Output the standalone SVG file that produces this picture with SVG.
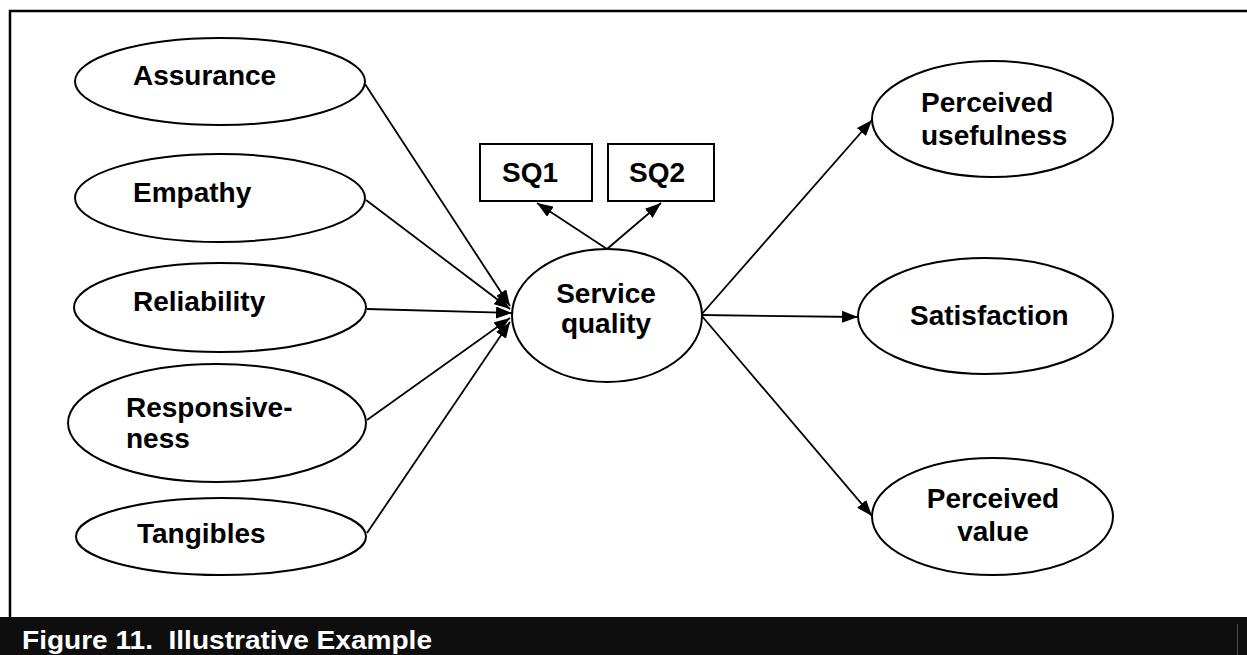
<svg xmlns="http://www.w3.org/2000/svg" width="1247" height="655" viewBox="0 0 1247 655">
<style>
.n ellipse, .n rect { fill: #fff; stroke: #000; stroke-width: 2; }
.t { font-family: "Liberation Sans", Arial, sans-serif; font-weight: bold; font-size: 28px; fill: #000; }
.cap { font-family: "Liberation Sans", Arial, sans-serif; font-weight: bold; font-size: 25px; fill: #fff; white-space: pre; }
</style>
<defs>
<marker id="arr" viewBox="0 0 16 12" refX="16" refY="6" markerWidth="16" markerHeight="12" markerUnits="userSpaceOnUse" orient="auto">
<path d="M0,0 L16,6 L0,12 z" fill="#000"/>
</marker>
</defs>
<rect x="0" y="0" width="1247" height="655" fill="#fff"/>
<path d="M10,617 L10,11 L1247,11" fill="none" stroke="#000" stroke-width="2.5"/>
<rect x="0" y="617" width="1247" height="38" fill="#0e0e0e"/>
<line x1="1237.5" y1="624" x2="1237.5" y2="655" stroke="#4a4a4a" stroke-width="1"/>
<text class="cap" x="22" y="649" xml:space="preserve" textLength="410" lengthAdjust="spacingAndGlyphs">Figure 11.  Illustrative Example</text>

<g id="connectors" fill="none" stroke="#000" stroke-width="1.8">
<line x1="365" y1="84" x2="510" y2="306" marker-end="url(#arr)"/>
<line x1="366" y1="200" x2="510" y2="309" marker-end="url(#arr)"/>
<line x1="367" y1="309" x2="512" y2="313" marker-end="url(#arr)"/>
<line x1="367" y1="420" x2="510" y2="318" marker-end="url(#arr)"/>
<line x1="367" y1="533" x2="510" y2="322" marker-end="url(#arr)"/>
<line x1="607" y1="249" x2="537" y2="203" marker-end="url(#arr)"/>
<line x1="607" y1="249" x2="661" y2="203" marker-end="url(#arr)"/>
<line x1="701" y1="315" x2="872" y2="120" marker-end="url(#arr)"/>
<line x1="701" y1="315" x2="858" y2="317" marker-end="url(#arr)"/>
<line x1="701" y1="315" x2="872" y2="516" marker-end="url(#arr)"/>
</g>

<g id="assurance" class="n"><ellipse cx="220" cy="81.5" rx="145" ry="43.5"/><text class="t" x="133" y="85">Assurance</text></g>
<g id="empathy" class="n"><ellipse cx="220" cy="198" rx="145" ry="44"/><text class="t" x="133" y="202">Empathy</text></g>
<g id="reliability" class="n"><ellipse cx="220" cy="307.5" rx="146" ry="44.5"/><text class="t" x="133" y="311">Reliability</text></g>
<g id="responsiveness" class="n"><ellipse cx="217" cy="423" rx="149" ry="59"/><text class="t" x="126" y="417">Responsive-</text><text class="t" x="126" y="448">ness</text></g>
<g id="tangibles" class="n"><ellipse cx="221" cy="536.5" rx="145" ry="38.5"/><text class="t" x="137" y="543">Tangibles</text></g>

<g id="service-quality" class="n"><ellipse cx="607" cy="315.5" rx="95" ry="66.5"/><text class="t" x="606" y="303" text-anchor="middle">Service</text><text class="t" x="606" y="333" text-anchor="middle">quality</text></g>
<g id="sq1" class="n"><rect x="480" y="144" width="112" height="57"/><text class="t" x="502" y="182">SQ1</text></g>
<g id="sq2" class="n"><rect x="608" y="144" width="106" height="57"/><text class="t" x="629" y="182">SQ2</text></g>

<g id="perceived-usefulness" class="n"><ellipse cx="992.5" cy="119" rx="120.5" ry="58"/><text class="t" x="921" y="112">Perceived</text><text class="t" x="921" y="145">usefulness</text></g>
<g id="satisfaction" class="n"><ellipse cx="985.5" cy="316" rx="127.5" ry="58"/><text class="t" x="910" y="325">Satisfaction</text></g>
<g id="perceived-value" class="n"><ellipse cx="992.5" cy="516.5" rx="120.5" ry="58.5"/><text class="t" x="993" y="508" text-anchor="middle">Perceived</text><text class="t" x="993" y="541" text-anchor="middle">value</text></g>
</svg>
